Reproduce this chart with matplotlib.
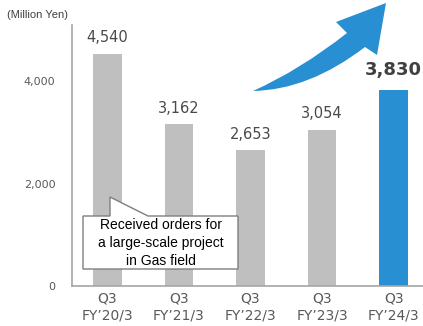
import matplotlib
matplotlib.use("Agg")
import matplotlib.pyplot as plt
from matplotlib.patches import Polygon, PathPatch
from matplotlib.path import Path

# Quarterly orders received (Million Yen)
categories = ["Q3\nFY\u201920/3", "Q3\nFY\u201921/3", "Q3\nFY\u201922/3",
              "Q3\nFY\u201923/3", "Q3\nFY\u201924/3"]
values = [4540, 3162, 2653, 3054, 3830]
value_labels = ["4,540", "3,162", "2,653", "3,054", "3,830"]
yticks = [0, 2000, 4000]
ytick_labels = ["0", "2,000", "4,000"]
note = "Received orders for\na large-scale project\nin Gas field"

GRAY = "#BFBFBF"
BLUE = "#288FD3"
TEXT = "#404040"
TICK = "#595959"
SPINE = "#A6A6A6"

W, H = 423, 326
fig = plt.figure(figsize=(W / 100, H / 100), dpi=100)
ax = fig.add_axes([72 / W, 1 - 286 / H, (W - 72) / W, (286 - 25) / H])

x = list(range(len(values)))
colors = [GRAY] * (len(values) - 1) + [BLUE]
ax.bar(x, values, width=0.4, color=colors, zorder=2)

ax.set_xlim(-0.495, 4.41)
ax.set_ylim(0, 5100)
ax.set_yticks(yticks)
ax.set_yticklabels(ytick_labels, fontsize=8, color=TICK, family="DejaVu Sans")
ax.set_xticks(x)
ax.set_xticklabels(categories, fontsize=10, color=TICK, family="DejaVu Sans",
                   linespacing=1.3)
ax.tick_params(axis="both", length=0)
ax.tick_params(axis="y", pad=12)
ax.tick_params(axis="x", pad=4)

for s in ["top", "right"]:
    ax.spines[s].set_visible(False)
for s in ["left", "bottom"]:
    ax.spines[s].set_color(SPINE)
    ax.spines[s].set_linewidth(1.2)

# value labels above bars
for i, (v, lab) in enumerate(zip(values, value_labels)):
    last = i == len(values) - 1
    ax.annotate(lab, (i, v), xytext=(0, 6 if not last else 8),
                textcoords="offset points", ha="center", va="bottom",
                fontsize=13 if last else 10.5,
                fontweight="bold" if last else "normal",
                color="#4A4A4A" if not last else TEXT, family="DejaVu Sans")

fig.text(7 / W, 1 - 15 / H, "(Million Yen)", fontsize=8, color=TEXT,
         family="Liberation Sans", ha="left", va="center")


def px(xp, yp):
    return (xp / W, 1 - yp / H)


# callout box with pointer
callout = [px(83, 216), px(110, 216), px(110, 197), px(148, 216),
           px(238, 216), px(238, 269), px(83, 269)]
fig.add_artist(Polygon(callout, closed=True, transform=fig.transFigure,
                       facecolor="white", edgecolor="#7F7F7F", linewidth=1.0,
                       zorder=5))
fig.text(160.5 / W, 1 - 243 / H, note, ha="center", va="center",
         fontsize=10, color="black", family="Liberation Sans",
         linespacing=1.35, zorder=6)

# upward growth arrow
verts = [px(253, 91), px(300, 70), px(347, 33),
         px(336, 22), px(386, 3), px(377, 55), px(365, 47),
         px(309, 90), px(253, 91), px(253, 91)]
codes = [Path.MOVETO, Path.CURVE3, Path.CURVE3,
         Path.LINETO, Path.LINETO, Path.LINETO, Path.LINETO,
         Path.CURVE3, Path.CURVE3, Path.CLOSEPOLY]
fig.add_artist(PathPatch(Path(verts, codes), transform=fig.transFigure,
                         facecolor=BLUE, edgecolor="none", zorder=4))

fig.savefig("out.png", dpi=100)
